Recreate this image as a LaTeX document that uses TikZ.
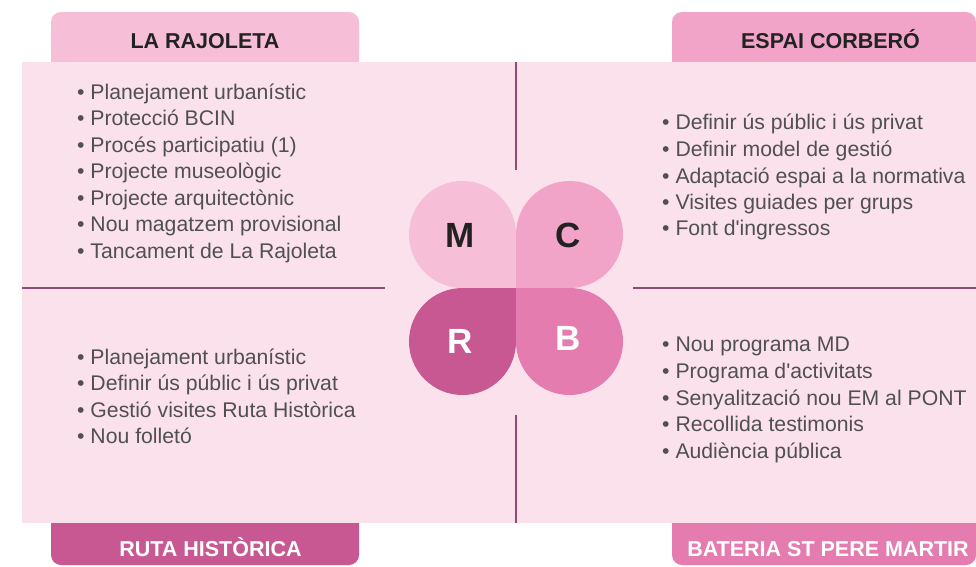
\documentclass[tikz,border=0pt]{standalone}
\usepackage{fontspec}
\setmainfont{Liberation Sans}
\newfontfamily\nolig{Liberation Sans}
\definecolor{panel}{HTML}{FAE1EC}
\definecolor{tabM}{HTML}{F7BFD7}
\definecolor{tabC}{HTML}{F2A4C8}
\definecolor{tabR}{HTML}{C85891}
\definecolor{tabB}{HTML}{E47CAF}
\definecolor{linec}{HTML}{8E4B73}
\definecolor{itemc}{HTML}{505050}
\definecolor{titlec}{HTML}{222222}
\newcommand{\apos}{{\nolig '}}
\begin{document}
\begin{tikzpicture}[x=1pt,y=-1pt,
  item/.style={anchor=base west,inner sep=0pt,text=itemc,font=\fontsize{21.2}{24}\selectfont},
  title/.style={anchor=base,inner sep=0pt,font=\fontsize{21.5}{24}\selectfont\bfseries},
  letter/.style={inner sep=0pt,font=\fontsize{35}{38}\selectfont\bfseries},
  sep/.style={draw=linec,line width=1.5pt}]
\useasboundingbox (0,0) rectangle (976,566);
\fill[white] (0,0) rectangle (976,566);
% tabs
\fill[tabM,rounded corners=10pt] (51,12) rectangle (359,80);
\fill[tabC,rounded corners=10pt] (672,12) rectangle (976,80);
\fill[tabR,rounded corners=10pt] (51,500) rectangle (359,565);
\fill[tabB,rounded corners=10pt] (672,500) rectangle (976,565);
% panel
\fill[panel] (22,62) rectangle (976,522.5);
% separators
\coordinate (vt1) at (516,62);
\coordinate (vt2) at (516,170);
\coordinate (vb1) at (516,415);
\coordinate (vb2) at (516,522.5);
\coordinate (hl1) at (22,288);
\coordinate (hl2) at (385,288);
\coordinate (hr1) at (633,288);
\coordinate (hr2) at (976,288);
\draw[sep] (vt1) -- (vt2);
\draw[sep] (vb1) -- (vb2);
\draw[sep] (hl1) -- (hl2);
\draw[sep] (hr1) -- (hr2);
% petals
\fill[tabM] (462.5,234.5) circle[radius=53.5]; \fill[tabM] (462.5,234.5) rectangle (516,288);
\fill[tabC] (569.5,234.5) circle[radius=53.5]; \fill[tabC] (516,234.5) rectangle (569.5,288);
\fill[tabR] (462.5,341.5) circle[radius=53.5]; \fill[tabR] (462.5,288) rectangle (516,341.5);
\fill[tabB] (569.5,341.5) circle[radius=53.5]; \fill[tabB] (516,288) rectangle (569.5,341.5);
\node[letter,text=titlec] (lM) at (460.5,235) {M};
\node[letter,text=titlec] (lC) at (568.5,235) {C};
\node[letter,text=white] (lR) at (460.5,341) {R};
\node[letter,text=white] (lB) at (568.5,338.5) {B};
% titles
\node[title,text=titlec] (tM) at (205,48) {LA RAJOLETA};
\node[title,text=titlec] (tC) at (830.5,48) {ESPAI CORBERÓ};
\node[title,text=white] (tR) at (210.5,556) {RUTA HISTÒRICA};
\node[title,text=white] (tB) at (828,556) {BATERIA ST PERE MARTIR};
% lists
\node[item] (m1) at (77,99) {• Planejament urbanístic};
\node[item] (m2) at (77,125.5) {• Protecció BCIN};
\node[item] (m3) at (77,152) {• Procés participatiu (1)};
\node[item] (m4) at (77,178.5) {• Projecte museològic};
\node[item] (m5) at (77,205) {• Projecte arquitectònic};
\node[item] (m6) at (77,231.5) {• Nou magatzem provisional};
\node[item] (m7) at (77,258) {• Tancament de La Rajoleta};
\node[item] (c1) at (662,129) {• Definir ús públic i ús privat};
\node[item] (c2) at (662,156) {• Definir model de gestió};
\node[item] (c3) at (662,183) {• Adaptació espai a la normativa};
\node[item] (c4) at (662,209) {• Visites guiades per grups};
\node[item] (c5) at (662,235) {• Font d\apos ingressos};
\node[item] (r1) at (77,364) {• Planejament urbanístic};
\node[item] (r2) at (77,390.5) {• Definir ús públic i ús privat};
\node[item] (r3) at (77,417) {• Gestió visites Ruta Històrica};
\node[item] (r4) at (77,443.5) {• Nou folletó};
\node[item] (b1) at (662,351) {• Nou programa MD};
\node[item] (b2) at (662,378) {• Programa d\apos activitats};
\node[item] (b3) at (662,405) {• Senyalització nou EM al PONT};
\node[item] (b4) at (662,431.5) {• Recollida testimonis};
\node[item] (b5) at (662,458) {• Audiència pública};
\end{tikzpicture}
\end{document}
